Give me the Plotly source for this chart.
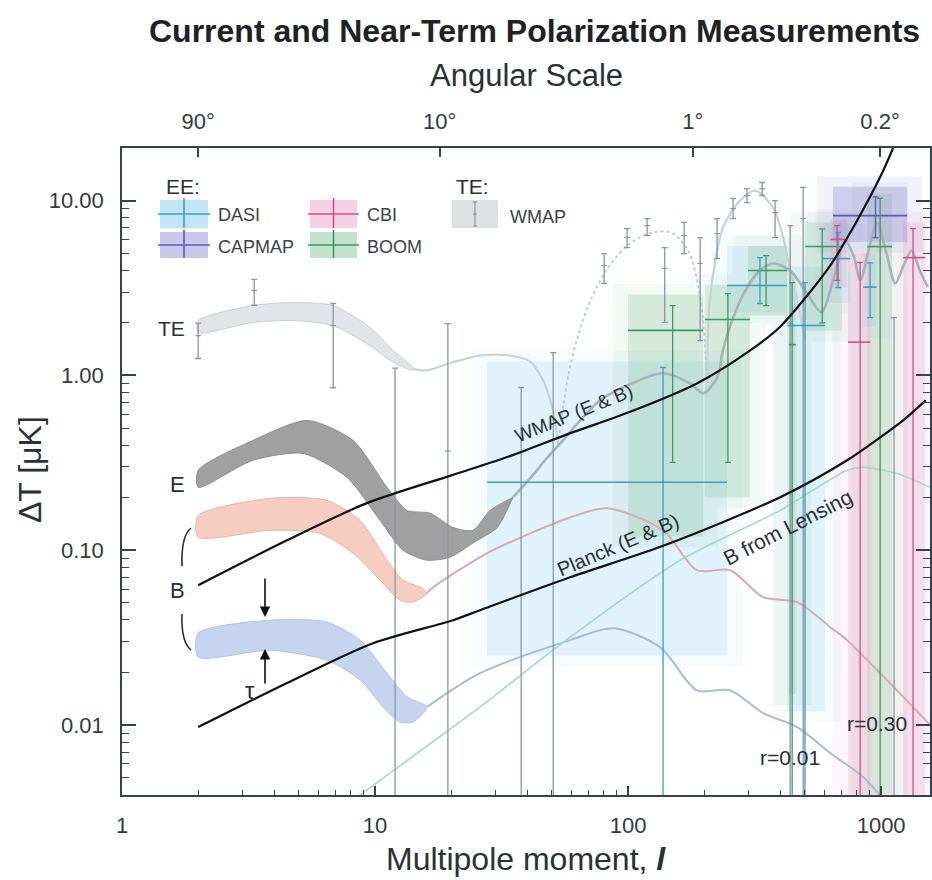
import math
import plotly.graph_objects as go

# ---------------- data ----------------
x_tick_vals = [1, 10, 100, 1000]
x_tick_text = ["1", "10", "100", "1000"]
y_tick_vals = [0.01, 0.1, 1, 10]
y_tick_text = ["0.01", "0.10", "1.00", "10.00"]
ang_tick_vals = [2, 18, 180, 990]
ang_tick_text = ["90°", "10°", "1°", "0.2°"]

# TE model band (l = 2..14) and continuation
te_band_l = [2.0, 3.29, 4.74, 6.82, 9.55, 11.78, 14.13]
te_band_hi = [2.06, 2.51, 2.61, 2.51, 1.88, 1.39, 1.11]
te_band_lo = [1.76, 2.01, 2.06, 1.93, 1.48, 1.19, 1.07]
te_line_l = [14.1, 16.0, 20.3, 26.0, 34.2, 41.0, 46.1, 50.5, 53.0]
te_line_v = [1.09, 1.07, 1.19, 1.30, 1.30, 1.20, 0.94, 0.63, 0.40]
te_neg_l = [53, 58, 65, 72, 82, 100, 125, 150, 175, 195, 205]
te_neg_v = [0.4, 1.0, 1.9, 2.8, 4.0, 5.6, 6.6, 6.5, 5.0, 2.5, 0.9]
te_pos_l = [205, 211, 237, 277, 318, 374, 410, 437, 466, 500]
te_pos_v = [0.9, 2.79, 7.0, 10.0, 11.4, 9.1, 6.15, 3.98, 2.68, 1.6]

# WMAP TE measurements
te_l = [2.0, 3.33, 6.83, 12.0, 19.4, 37.8, 50.6, 80.4, 99.1, 118.9, 139.6, 166.5,
        192.6, 224.8, 260, 295, 338.8, 381, 437, 492, 1125]
te_v = [1.69, 3.06, 1.93, 0.003, 0.37, 0.003, 0.003, 4.25, 6.15, 7.2, 4.09, 6.3,
        4.37, 6.48, 9.0, 10.7, 11.7, 8.54, 2.0, 7.9, 0.003]
te_lo = [1.25, 2.52, 0.85, 0.001, 0.001, 0.001, 0.001, 3.36, 5.39, 6.31, 2.01, 4.98,
         1.58, 4.66, 7.89, 9.74, 10.7, 6.15, 0.001, 0.001, 0.001]
te_hi = [1.99, 3.54, 2.58, 1.10, 1.98, 0.853, 1.35, 4.98, 6.92, 7.89, 5.39, 7.5,
         6.15, 7.89, 10.3, 11.7, 12.7, 10.0, 7.2, 11.9, 2.14]

# E model band and EE model line
e_hi_l = [2.0, 3.29, 5.39, 8.19, 11.15, 13.38, 16.49, 20.33, 24.38, 28.5, 35.1]
e_hi_v = [0.287, 0.425, 0.553, 0.425, 0.229, 0.169, 0.163, 0.135, 0.13, 0.169, 0.201]
e_lo_l = [2.0, 3.29, 5.19, 7.75, 10.47, 12.9, 16.05, 19.78, 24.38, 30.4, 35.1]
e_lo_v = [0.229, 0.327, 0.358, 0.261, 0.148, 0.1, 0.0877, 0.0912, 0.11, 0.135, 0.201]
ee_l = [35.1, 41.0, 47.8, 55.3, 64.6, 77.5, 99.1, 137.5, 176, 198, 225, 237, 260, 295,
        332, 374, 437, 510, 580, 650, 720, 780, 826, 900, 964, 1050, 1137, 1230, 1320,
        1420, 1530]
ee_v = [0.201, 0.258, 0.337, 0.425, 0.553, 0.72, 0.877, 1.03, 0.9, 0.79, 0.97, 1.39,
        2.14, 3.18, 3.98, 4.37, 3.98, 2.94, 2.3, 3.6, 5.9, 4.8, 3.49, 5.5, 7.48, 5.0,
        3.36, 4.3, 5.18, 4.0, 3.2]

# B modes r = 0.30
b30_hi_l = [2.0, 3.85, 6.46, 8.73, 11.15, 12.9, 15.07]
b30_hi_v = [0.158, 0.198, 0.193, 0.148, 0.0877, 0.0674, 0.0615]
b30_lo_l = [2.0, 3.85, 6.06, 8.19, 10.47, 12.56, 14.13, 16.05]
b30_lo_v = [0.119, 0.13, 0.125, 0.0961, 0.0674, 0.0518, 0.0505, 0.0568]
b30_l = [16.05, 17.0, 27.7, 59.0, 82.6, 137.5, 187, 253, 342, 466, 629, 734, 991, 1337, 1560]
b30_v = [0.0568, 0.0615, 0.0961, 0.154, 0.174, 0.13, 0.0769, 0.0769, 0.0539, 0.0505,
         0.0363, 0.0306, 0.0198, 0.0127, 0.0100]

# B modes r = 0.01
b01_hi_l = [2.0, 3.85, 6.46, 8.73, 11.15, 13.38, 16.05]
b01_hi_v = [0.0336, 0.0398, 0.0388, 0.0306, 0.0198, 0.0145, 0.0127]
b01_lo_l = [2.0, 3.85, 6.46, 8.73, 10.75, 12.56, 14.13]
b01_lo_v = [0.0245, 0.0268, 0.0235, 0.0181, 0.0127, 0.0104, 0.0104]
b01_l = [16.05, 26.0, 59.0, 87.3, 133.8, 187, 253, 342, 466, 629, 849, 991, 1140]
b01_v = [0.0127, 0.0198, 0.0306, 0.0358, 0.0279, 0.0158, 0.0158, 0.0117, 0.00974,
         0.00692, 0.00505, 0.00398, 0.0033]

# B from lensing
lens_l = [8.0, 8.73, 26.0, 59.0, 160.6, 399, 574, 734, 849, 1156, 1560]
lens_v = [0.0036, 0.00398, 0.0127, 0.0318, 0.0877, 0.169, 0.234, 0.287, 0.298, 0.275, 0.229]

# noise curves
wmap_l = [2.0, 4.49, 9.29, 20.33, 35.0, 57.4, 102, 187, 295, 399, 629, 804, 1000, 1115]
wmap_v = [0.0631, 0.114, 0.186, 0.27, 0.35, 0.46, 0.62, 0.9, 1.35, 1.9, 4.25, 7.7, 14.0, 20.0]
planck_l = [2.0, 4.49, 9.82, 20.33, 26.0, 59.0, 137.5, 399, 734, 991, 1222, 1500]
planck_v = [0.00974, 0.0174, 0.0294, 0.0398, 0.0454, 0.07, 0.106, 0.201, 0.327, 0.442, 0.553, 0.72]

# EE measurements: centre, l-range, value range, shaded region
dasi_l = [137.5, 332, 500, 676, 905]
dasi_v = [0.245, 3.27, 1.93, 4.66, 3.2]
dasi_lmin = [27.7, 246, 425, 590, 850]
dasi_lmax = [246, 425, 600, 754, 960]
dasi_lo = [0.001, 2.58, 0.001, 3.18, 2.14]
dasi_hi = [1.11, 4.72, 3.4, 6.57, 4.4]
dasi_box_lo = [0.025, 2.3, 0.012, 2.6, 1.9]
dasi_box_hi = [1.2, 5.5, 4.2, 7.5, 5.0]

boom_l = [150, 248, 351, 445, 585, 991]
boom_v = [1.81, 2.09, 3.98, 1.5, 5.46, 5.46]
boom_lmin = [100, 201, 298, 432, 500, 881]
boom_lmax = [198, 303, 425, 460, 700, 1105]
boom_lo = [0.318, 0.318, 2.51, 0.001, 2.0, 0.001]
boom_hi = [2.51, 2.94, 4.85, 3.4, 6.9, 10.3]
boom_box_lo = [0.12, 0.2, 2.2, 0.015, 1.8, 0.004]
boom_box_hi = [2.9, 3.3, 5.5, 3.8, 7.5, 11.0]

cbi_l = [670, 826, 1337]
cbi_v = [6.0, 1.55, 4.72]
cbi_lmin = [630, 740, 1222]
cbi_lmax = [730, 905, 1492]
cbi_lo = [3.5, 0.001, 0.001]
cbi_hi = [7.2, 4.43, 6.92]
cbi_box_lo = [3.2, 0.004, 0.004]
cbi_box_hi = [7.8, 5.0, 7.5]

capmap_l = [950]
capmap_v = [8.21]
capmap_lmin = [645]
capmap_lmax = [1267]
capmap_lo = [6.15]
capmap_hi = [10.5]
capmap_box_lo = [5.8]
capmap_box_hi = [12.0]

# ---------------- layout helpers ----------------
W, H = 932, 880
L, R, T, B = 122, 930, 148, 795
FONT = "Liberation Sans, Arial, Helvetica, sans-serif"
AX = "#34434d"
TXT = "#2a3036"


def px(x):
    return (x - L) / (R - L)


def py(y):
    return (B - y) / (B - T)


fig = go.Figure()


def add_boxes(lmin, lmax, blo, bhi, fill, glow):
    for grow, col in ((1.15, glow), (1.0, fill)):
        xs, ys = [], []
        for a, b, c, d in zip(lmin, lmax, blo, bhi):
            a2, b2 = a / grow, b * grow
            c2, d2 = c / grow, d * grow
            xs += [a2, b2, b2, a2, a2, None]
            ys += [c2, c2, d2, d2, c2, None]
        fig.add_trace(go.Scatter(x=xs, y=ys, mode="none", fill="toself", fillcolor=col,
                                 hoverinfo="skip", showlegend=False))


def add_band(lh, vh, ll, vl, fill, edge):
    xs = list(lh) + list(reversed(ll)) + [lh[0]]
    ys = list(vh) + list(reversed(vl)) + [vh[0]]
    fig.add_trace(go.Scatter(x=xs, y=ys, mode="lines", fill="toself", fillcolor=fill,
                             line=dict(color=edge, width=1, shape="spline", smoothing=0.7),
                             hoverinfo="skip", showlegend=False))


def add_line(l, v, color, width, dash="solid"):
    fig.add_trace(go.Scatter(x=l, y=v, mode="lines",
                             line=dict(color=color, width=width, dash=dash, shape="spline", smoothing=0.8),
                             hoverinfo="skip", showlegend=False))


def add_points(l, v, lo, hi, color, lmin=None, lmax=None, cap=3, msym="line-ew", msize=4):
    ey = dict(type="data", symmetric=False,
              array=[h - c for h, c in zip(hi, v)],
              arrayminus=[c - o for c, o in zip(v, lo)],
              color=color, thickness=1.3, width=cap)
    ex = None
    if lmin is not None:
        ex = dict(type="data", symmetric=False,
                  array=[b - c for b, c in zip(lmax, l)],
                  arrayminus=[c - a for c, a in zip(l, lmin)],
                  color=color, thickness=1.6, width=0)
    fig.add_trace(go.Scatter(x=l, y=v, mode="markers",
                             marker=dict(symbol=msym, size=msize, color=color,
                                         line=dict(color=color, width=1.2)),
                             error_y=ey, error_x=ex, hoverinfo="skip", showlegend=False))


# shaded measurement regions
add_boxes(dasi_lmin, dasi_lmax, dasi_box_lo, dasi_box_hi, "rgba(150,210,240,0.22)", "rgba(175,222,245,0.12)")
add_boxes(boom_lmin, boom_lmax, boom_box_lo, boom_box_hi, "rgba(125,192,145,0.25)", "rgba(155,208,170,0.12)")
add_boxes(cbi_lmin, cbi_lmax, cbi_box_lo, cbi_box_hi, "rgba(232,150,190,0.25)", "rgba(240,180,210,0.12)")
add_boxes(capmap_lmin, capmap_lmax, capmap_box_lo, capmap_box_hi, "rgba(140,130,210,0.32)", "rgba(170,160,225,0.15)")

# theory bands and curves
add_band(te_band_l, te_band_hi, te_band_l, te_band_lo, "rgba(226,229,232,1)", "#c9d0d6")
add_line(te_line_l, te_line_v, "#c9d1d8", 2.2)
add_line(te_neg_l, te_neg_v, "#b9c8d6", 1.8, dash="dot")
add_line(te_pos_l, te_pos_v, "#c9d1d8", 2.2)

add_band(b30_hi_l, b30_hi_v, b30_lo_l, b30_lo_v, "rgba(244,196,182,0.85)", "#eab3a6")
add_line(b30_l, b30_v, "#d9aab0", 2.0)
add_band(b01_hi_l, b01_hi_v, b01_lo_l, b01_lo_v, "rgba(196,210,238,0.95)", "#b3c3e2")
add_line(b01_l, b01_v, "#a9bad9", 2.0)
add_line(lens_l, lens_v, "#a6d8c6", 1.6)
add_band(e_hi_l, e_hi_v, e_lo_l, e_lo_v, "rgba(150,150,150,0.9)", "#8f8f8f")
add_line(ee_l, ee_v, "#a9b1b9", 2.6)

# measurements
add_points(te_l, te_v, te_lo, te_hi, "#8797a3", cap=3)
add_points(boom_l, boom_v, boom_lo, boom_hi, "#3d9a62", boom_lmin, boom_lmax, cap=3, msize=2)
add_points(dasi_l, dasi_v, dasi_lo, dasi_hi, "#3a9dcc", dasi_lmin, dasi_lmax, cap=3, msize=2)
add_points(cbi_l, cbi_v, cbi_lo, cbi_hi, "#cf4f8c", cbi_lmin, cbi_lmax, cap=3, msize=2)
add_points(capmap_l, capmap_v, capmap_lo, capmap_hi, "#5b5bb6", capmap_lmin, capmap_lmax, cap=3, msize=2)

# noise curves
add_line(wmap_l, wmap_v, "#111111", 2.2)
add_line(planck_l, planck_v, "#111111", 2.2)

# invisible trace to activate top axis
fig.add_trace(go.Scatter(x=[2], y=[1], xaxis="x2", mode="markers",
                         marker=dict(opacity=0), hoverinfo="skip", showlegend=False))

# minor ticks
minor_x = [m * 10 ** e for e in range(0, 4) for m in range(2, 10)]
minor_y = [m * 10 ** e for e in range(-3, 2) for m in range(2, 10)]

axis_common = dict(type="log", showgrid=False, zeroline=False, showline=True, automargin=False,
                   linecolor=AX, linewidth=1.6, ticks="inside", tickcolor=AX,
                   tickfont=dict(family=FONT, size=22, color="#333a40"))

fig.update_layout(
    width=W, height=H, margin=dict(l=L, r=W - R, t=T, b=H - B),
    paper_bgcolor="white", plot_bgcolor="white", showlegend=False,
    xaxis=dict(axis_common, range=[0, math.log10(1560)], tickmode="array",
               tickvals=x_tick_vals, ticktext=x_tick_text, ticklen=9, tickwidth=1.5,
               minor=dict(tickmode="array", tickvals=minor_x, ticks="inside", ticklen=5,
                          tickcolor=AX, tickwidth=1.2, showgrid=False),
               ticklabelstandoff=10),
    xaxis2=dict(axis_common, range=[0, math.log10(1560)], overlaying="x", side="top",
                anchor="y", tickmode="array", tickvals=ang_tick_vals, ticktext=ang_tick_text,
                ticklen=9, tickwidth=1.5, ticklabelstandoff=8),
    yaxis=dict(axis_common, range=[math.log10(0.00398), math.log10(20.0)], tickmode="array",
               tickvals=y_tick_vals, ticktext=y_tick_text, ticklen=14, tickwidth=1.5,
               mirror="ticks",
               minor=dict(tickmode="array", tickvals=minor_y, ticks="inside", ticklen=7,
                          tickcolor=AX, tickwidth=1.2, showgrid=False),
               ticklabelstandoff=12),
)

ann = []


def text(x, y, s, size=16, color=TXT, angle=0, bold=False, xanchor="center", family=FONT):
    if bold:
        s = "<b>" + s + "</b>"
    ann.append(dict(x=px(x), y=py(y), xref="paper", yref="paper", text=s, showarrow=False,
                    font=dict(family=family, size=size, color=color), textangle=angle,
                    xanchor=xanchor, yanchor="middle"))


# titles
text(534, 31, "Current and Near-Term Polarization Measurements", size=32, bold=True, color="#1e2226")
text(526, 76, "Angular Scale", size=31)
text(526, 859, "Multipole moment, <b><i>l</i></b>", size=32)
ann.append(dict(x=px(30), y=py(470), xref="paper", yref="paper", text="ΔT [μK]", showarrow=False,
                textangle=-90, font=dict(family=FONT, size=32, color=TXT),
                xanchor="center", yanchor="middle"))

# curve labels
text(171, 328, "TE", size=21)
text(177, 484, "E", size=22)
text(177, 590, "B", size=22)
text(250, 690, "τ", size=24)
text(573, 413, "WMAP (E &amp; B)", size=19, angle=-22)
text(618, 545, "Planck (E &amp; B)", size=20, angle=-23)
text(787, 527, "B from Lensing", size=21, angle=-27)
text(790, 757, "r=0.01", size=21)
text(877, 723, "r=0.30", size=21)

# arrows around tau
ann.append(dict(x=px(265), y=py(617), ax=0, ay=-40, xref="paper", yref="paper", text="",
                showarrow=True, arrowhead=2, arrowsize=1.3, arrowwidth=1.6, arrowcolor="#111"))
ann.append(dict(x=px(265), y=py(649), ax=0, ay=36, xref="paper", yref="paper", text="",
                showarrow=True, arrowhead=2, arrowsize=1.3, arrowwidth=1.6, arrowcolor="#111"))

# legend
text(164, 186, "EE:", size=21, xanchor="left")
text(454, 186, "TE:", size=21, xanchor="left")
legend_items = [
    (160, 208, 200, 228, "rgba(120,200,235,0.45)", "#3a9dcc", "DASI", 216, 215),
    (160, 208, 232, 258, "rgba(140,130,210,0.45)", "#5b5bb6", "CAPMAP", 216, 247),
    (310, 357, 200, 228, "rgba(232,150,190,0.45)", "#cf4f8c", "CBI", 365, 215),
    (310, 357, 232, 258, "rgba(120,190,140,0.45)", "#3d9a62", "BOOM", 365, 247),
]
shapes = []
for x0, x1, y0, y1, fill, col, name, tx, ty in legend_items:
    shapes.append(dict(type="rect", xref="paper", yref="paper", x0=px(x0), x1=px(x1),
                       y0=py(y1), y1=py(y0), fillcolor=fill, line=dict(width=0), layer="above"))
    ym = (y0 + y1) / 2
    xm = (x0 + x1) / 2
    shapes.append(dict(type="line", xref="paper", yref="paper", x0=px(x0 - 2), x1=px(x1 + 2),
                       y0=py(ym), y1=py(ym), line=dict(color=col, width=1.6), layer="above"))
    shapes.append(dict(type="line", xref="paper", yref="paper", x0=px(xm), x1=px(xm),
                       y0=py(y1), y1=py(y0 - 2), line=dict(color=col, width=1.6), layer="above"))
    text(tx, ty, name, size=18, xanchor="left", color="#3a4248")

# WMAP TE legend swatch
shapes.append(dict(type="rect", xref="paper", yref="paper", x0=px(452), x1=px(498),
                   y0=py(228), y1=py(200), fillcolor="rgba(222,224,226,1)", line=dict(width=0),
                   layer="above"))
shapes.append(dict(type="line", xref="paper", yref="paper", x0=px(475), x1=px(475),
                   y0=py(226), y1=py(202), line=dict(color="#8797a3", width=1.2), layer="above"))
for yy in (202, 214, 226):
    shapes.append(dict(type="line", xref="paper", yref="paper", x0=px(473), x1=px(477),
                       y0=py(yy), y1=py(yy), line=dict(color="#8797a3", width=1.2), layer="above"))
text(508, 217, "WMAP", size=18, xanchor="left", color="#3a4248")


# bracket around B
def bracket_path(xa, ya, xb, yb, xc, yc):
    return "M {} {} Q {} {} {} {}".format(px(xa), py(ya), px(xb), py(yb), px(xc), py(yc))


shapes.append(dict(type="path", xref="paper", yref="paper", path=bracket_path(191, 528, 181, 536, 182, 566),
                   line=dict(color="#2a2f33", width=1.6), layer="above"))
shapes.append(dict(type="path", xref="paper", yref="paper", path=bracket_path(182, 614, 181, 642, 191, 650),
                   line=dict(color="#2a2f33", width=1.6), layer="above"))

fig.update_layout(annotations=ann, shapes=shapes)
fig.write_html("out.html", config={"displayModeBar": False},
               post_script="document.body.style.margin='0';document.body.style.overflow='hidden';")
